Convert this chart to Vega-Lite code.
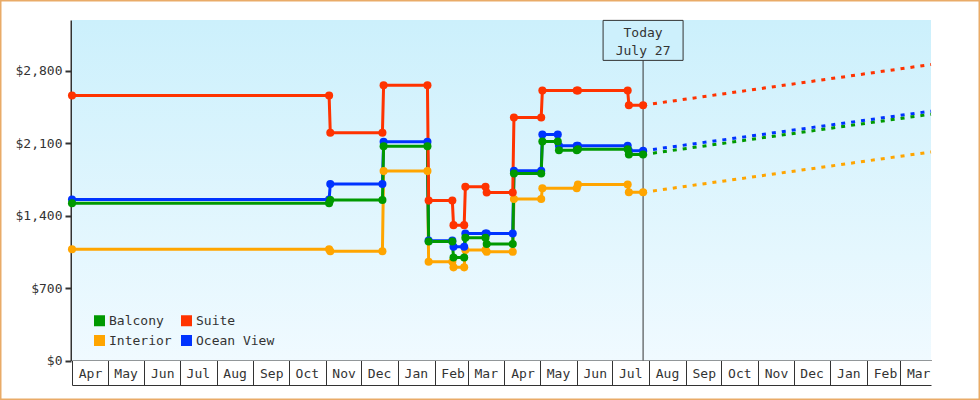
{
  "$schema": "https://vega.github.io/schema/vega-lite/v6.json",
  "width": 980,
  "height": 400,
  "autosize": "none",
  "padding": 0,
  "background": "white",
  "config": {
    "view": {"stroke": "#e9ab68", "strokeWidth": 3, "fill": "white"},
    "font": "DejaVu Sans Mono",
    "legend": {
      "orient": "none",
      "legendX": 93,
      "legendY": 314,
      "columns": 2,
      "padding": 0,
      "rowPadding": 6,
      "columnPadding": 8,
      "symbolType": "square",
      "symbolSize": 121,
      "symbolStrokeWidth": 0,
      "symbolOpacity": 1,
      "labelFont": "DejaVu Sans Mono",
      "labelFontSize": 13,
      "labelColor": "#333333",
      "labelOffset": 3
    }
  },
  "datasets": {
    "prices": [
      {"s": "Interior", "d": "2021-04-01", "p": 1075},
      {"s": "Interior", "d": "2021-11-04", "p": 1075},
      {"s": "Interior", "d": "2021-11-05", "p": 1055},
      {"s": "Interior", "d": "2021-12-19", "p": 1055},
      {"s": "Interior", "d": "2021-12-20", "p": 1830},
      {"s": "Interior", "d": "2022-01-26", "p": 1830},
      {"s": "Interior", "d": "2022-01-27", "p": 955},
      {"s": "Interior", "d": "2022-02-16", "p": 955},
      {"s": "Interior", "d": "2022-02-17", "p": 900},
      {"s": "Interior", "d": "2022-02-26", "p": 900},
      {"s": "Interior", "d": "2022-02-27", "p": 1067},
      {"s": "Interior", "d": "2022-03-16", "p": 1067},
      {"s": "Interior", "d": "2022-03-17", "p": 1050},
      {"s": "Interior", "d": "2022-04-08", "p": 1050},
      {"s": "Interior", "d": "2022-04-09", "p": 1560},
      {"s": "Interior", "d": "2022-05-02", "p": 1560},
      {"s": "Interior", "d": "2022-05-03", "p": 1665},
      {"s": "Interior", "d": "2022-06-01", "p": 1665},
      {"s": "Interior", "d": "2022-06-02", "p": 1700},
      {"s": "Interior", "d": "2022-07-14", "p": 1700},
      {"s": "Interior", "d": "2022-07-15", "p": 1625},
      {"s": "Interior", "d": "2022-07-27", "p": 1625},
      {"s": "Ocean View", "d": "2021-04-01", "p": 1555},
      {"s": "Ocean View", "d": "2021-11-04", "p": 1555},
      {"s": "Ocean View", "d": "2021-11-05", "p": 1705},
      {"s": "Ocean View", "d": "2021-12-19", "p": 1705},
      {"s": "Ocean View", "d": "2021-12-20", "p": 2113},
      {"s": "Ocean View", "d": "2022-01-26", "p": 2113},
      {"s": "Ocean View", "d": "2022-01-27", "p": 1158},
      {"s": "Ocean View", "d": "2022-02-16", "p": 1158},
      {"s": "Ocean View", "d": "2022-02-17", "p": 1099},
      {"s": "Ocean View", "d": "2022-02-26", "p": 1099},
      {"s": "Ocean View", "d": "2022-02-27", "p": 1228},
      {"s": "Ocean View", "d": "2022-03-16", "p": 1228},
      {"s": "Ocean View", "d": "2022-03-17", "p": 1228},
      {"s": "Ocean View", "d": "2022-04-08", "p": 1228},
      {"s": "Ocean View", "d": "2022-04-09", "p": 1833},
      {"s": "Ocean View", "d": "2022-05-02", "p": 1833},
      {"s": "Ocean View", "d": "2022-05-03", "p": 2184},
      {"s": "Ocean View", "d": "2022-05-16", "p": 2184},
      {"s": "Ocean View", "d": "2022-05-17", "p": 2074},
      {"s": "Ocean View", "d": "2022-06-01", "p": 2074},
      {"s": "Ocean View", "d": "2022-06-02", "p": 2074},
      {"s": "Ocean View", "d": "2022-07-14", "p": 2074},
      {"s": "Ocean View", "d": "2022-07-15", "p": 2026},
      {"s": "Ocean View", "d": "2022-07-27", "p": 2026},
      {"s": "Balcony", "d": "2021-04-01", "p": 1520},
      {"s": "Balcony", "d": "2021-11-04", "p": 1520},
      {"s": "Balcony", "d": "2021-11-05", "p": 1550},
      {"s": "Balcony", "d": "2021-12-19", "p": 1550},
      {"s": "Balcony", "d": "2021-12-20", "p": 2070},
      {"s": "Balcony", "d": "2022-01-26", "p": 2070},
      {"s": "Balcony", "d": "2022-01-27", "p": 1150},
      {"s": "Balcony", "d": "2022-02-16", "p": 1150},
      {"s": "Balcony", "d": "2022-02-17", "p": 995},
      {"s": "Balcony", "d": "2022-02-26", "p": 995},
      {"s": "Balcony", "d": "2022-02-27", "p": 1186},
      {"s": "Balcony", "d": "2022-03-16", "p": 1186},
      {"s": "Balcony", "d": "2022-03-17", "p": 1125},
      {"s": "Balcony", "d": "2022-04-08", "p": 1125},
      {"s": "Balcony", "d": "2022-04-09", "p": 1807},
      {"s": "Balcony", "d": "2022-05-02", "p": 1807},
      {"s": "Balcony", "d": "2022-05-03", "p": 2116},
      {"s": "Balcony", "d": "2022-05-16", "p": 2116},
      {"s": "Balcony", "d": "2022-05-17", "p": 2032},
      {"s": "Balcony", "d": "2022-06-01", "p": 2032},
      {"s": "Balcony", "d": "2022-06-02", "p": 2040},
      {"s": "Balcony", "d": "2022-07-14", "p": 2040},
      {"s": "Balcony", "d": "2022-07-15", "p": 1990},
      {"s": "Balcony", "d": "2022-07-27", "p": 1990},
      {"s": "Suite", "d": "2021-04-01", "p": 2560},
      {"s": "Suite", "d": "2021-11-04", "p": 2560},
      {"s": "Suite", "d": "2021-11-05", "p": 2200},
      {"s": "Suite", "d": "2021-12-19", "p": 2200},
      {"s": "Suite", "d": "2021-12-20", "p": 2660},
      {"s": "Suite", "d": "2022-01-26", "p": 2660},
      {"s": "Suite", "d": "2022-01-27", "p": 1545},
      {"s": "Suite", "d": "2022-02-16", "p": 1545},
      {"s": "Suite", "d": "2022-02-17", "p": 1308},
      {"s": "Suite", "d": "2022-02-26", "p": 1308},
      {"s": "Suite", "d": "2022-02-27", "p": 1678},
      {"s": "Suite", "d": "2022-03-16", "p": 1678},
      {"s": "Suite", "d": "2022-03-17", "p": 1624},
      {"s": "Suite", "d": "2022-04-08", "p": 1624},
      {"s": "Suite", "d": "2022-04-09", "p": 2348},
      {"s": "Suite", "d": "2022-05-02", "p": 2348},
      {"s": "Suite", "d": "2022-05-03", "p": 2609},
      {"s": "Suite", "d": "2022-06-01", "p": 2609},
      {"s": "Suite", "d": "2022-06-02", "p": 2609},
      {"s": "Suite", "d": "2022-07-14", "p": 2609},
      {"s": "Suite", "d": "2022-07-15", "p": 2467},
      {"s": "Suite", "d": "2022-07-27", "p": 2467}
    ],
    "proj": [
      {"s": "Interior", "d": "2022-07-27", "p": 1625},
      {"s": "Interior", "d": "2023-03-27", "p": 2015},
      {"s": "Ocean View", "d": "2022-07-27", "p": 2026},
      {"s": "Ocean View", "d": "2023-03-27", "p": 2409},
      {"s": "Balcony", "d": "2022-07-27", "p": 1990},
      {"s": "Balcony", "d": "2023-03-27", "p": 2380},
      {"s": "Suite", "d": "2022-07-27", "p": 2467},
      {"s": "Suite", "d": "2023-03-27", "p": 2860}
    ],
    "today": [
      {"d": "2022-07-27"}
    ]
  },
  "resolve": {"axis": {"x": "independent"}},
  "layer": [
    {
      "data": {"values": [{}]},
      "mark": {
        "type": "rect",
        "fill": {
          "gradient": "linear",
          "x1": 0, "y1": 0, "x2": 0, "y2": 1,
          "stops": [
            {"offset": 0, "color": "#ccf0fc"},
            {"offset": 1, "color": "#f0faff"}
          ]
        }
      },
      "encoding": {
        "x": {"datum": {"year": 2021, "month": 4, "date": 1, "utc": true}, "type": "temporal", "axis": null},
        "x2": {"datum": {"year": 2023, "month": 3, "date": 27, "utc": true}},
        "y": {"datum": 0, "type": "quantitative"},
        "y2": {"datum": 3290}
      }
    },
    {
      "data": {"name": "today"},
      "mark": {"type": "rule", "color": "#333333", "strokeWidth": 1},
      "encoding": {
        "x": {"field": "d", "type": "temporal", "axis": null},
        "y": {"datum": 0, "type": "quantitative"},
        "y2": {"datum": 3093}
      }
    },
    {
      "data": {"name": "proj"},
      "mark": {"type": "line", "strokeWidth": 3, "strokeDash": [4, 6]},
      "encoding": {
        "x": {
          "field": "d", "type": "temporal",
          "axis": {"orient": "bottom", "offset": -15, "domain": true, "domainColor": "#333333", "domainWidth": 1, "ticks": false, "labels": false, "grid": false, "title": null}
        },
        "y": {"field": "p", "type": "quantitative", "title": null},
        "color": {"field": "s", "type": "nominal", "title": null}
      }
    },
    {
      "data": {"name": "prices"},
      "mark": {"type": "line", "strokeWidth": 3},
      "encoding": {
        "x": {
          "field": "d", "type": "temporal",
          "scale": {
            "type": "utc",
            "domain": [{"year": 2021, "month": 4, "date": 1, "utc": true}, {"year": 2023, "month": 3, "date": 27, "utc": true}],
            "range": [72, 931],
            "nice": false
          },
          "axis": {
            "orient": "bottom", "offset": -40, "title": null, "grid": false,
            "domain": true, "domainColor": "#333333", "domainWidth": 1,
            "ticks": true, "tickSize": 25, "tickColor": "#333333", "tickWidth": 1,
            "tickCount": {"interval": "month", "step": 1},
            "format": "%b",
            "labelOffset": 18, "labelPadding": -12, "labelBaseline": "middle", "labelAlign": "center",
            "labelFlush": false, "labelOverlap": false, "labelBound": false,
            "labelFont": "DejaVu Sans Mono", "labelFontSize": 13, "labelColor": "#333333"
          }
        },
        "y": {
          "field": "p", "type": "quantitative", "title": null,
          "scale": {"domain": [0, 3290], "range": [360.5, 20], "nice": false, "zero": false},
          "axis": {
            "orient": "left", "offset": -71, "grid": false,
            "values": [0, 700, 1400, 2100, 2800], "format": "$,.0f",
            "domainColor": "#333333", "domainWidth": 2,
            "tickColor": "#333333", "tickWidth": 2, "tickSize": 6,
            "labelPadding": 3, "labelFont": "DejaVu Sans Mono", "labelFontSize": 13, "labelColor": "#333333"
          }
        },
        "color": {
          "field": "s", "type": "nominal", "title": null,
          "scale": {"domain": ["Balcony", "Interior", "Suite", "Ocean View"], "range": ["#009900", "#ffa500", "#ff3300", "#0033ff"]}
        }
      }
    },
    {
      "data": {"name": "prices"},
      "mark": {"type": "point", "filled": true, "size": 65, "opacity": 1},
      "encoding": {
        "x": {"field": "d", "type": "temporal", "axis": null},
        "y": {"field": "p", "type": "quantitative", "title": null},
        "color": {"field": "s", "type": "nominal", "title": null}
      }
    },
    {
      "data": {"name": "today"},
      "mark": {"type": "rect", "width": 80, "height": 40, "fill": "#cdf0fc", "stroke": "#333333", "strokeWidth": 1},
      "encoding": {
        "x": {"field": "d", "type": "temporal", "axis": null},
        "y": {"datum": 3093, "type": "quantitative"}
      }
    },
    {
      "data": {"name": "today"},
      "mark": {"type": "text", "text": ["Today", "July 27"], "lineHeight": 18, "font": "DejaVu Sans Mono", "fontSize": 13, "color": "#333333", "align": "center", "baseline": "middle"},
      "encoding": {
        "x": {"field": "d", "type": "temporal", "axis": null},
        "y": {"datum": 3169, "type": "quantitative"}
      }
    }
  ]
}
